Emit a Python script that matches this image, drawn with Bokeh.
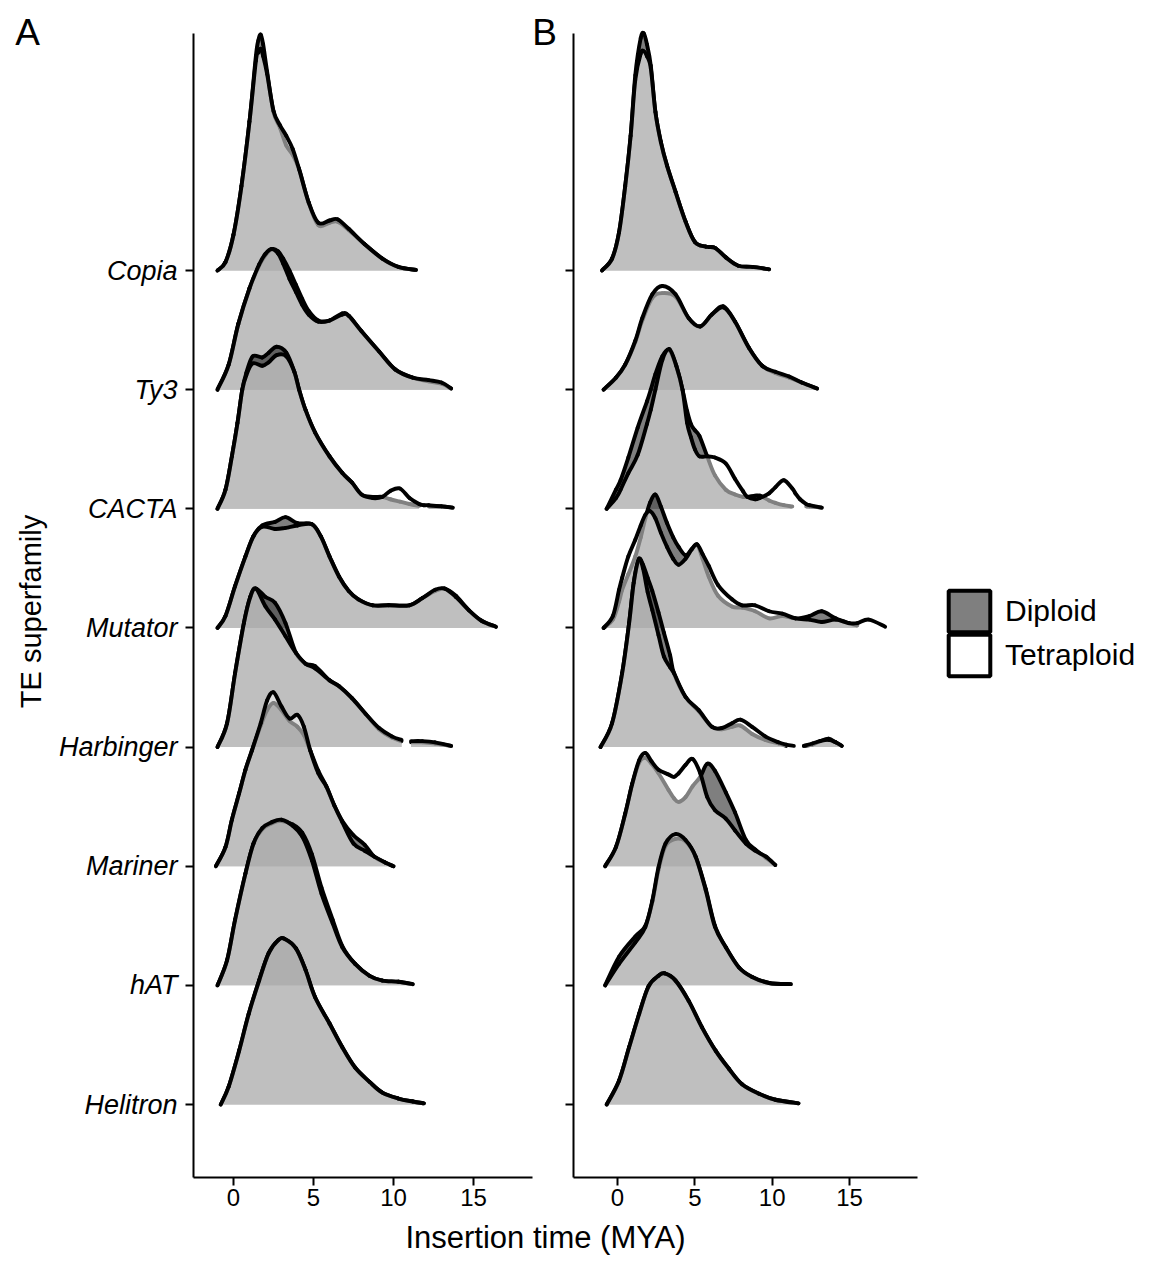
import math
from bokeh.plotting import figure
from bokeh.models import (Range1d, FixedTicker, Label, Legend, LegendItem, ColumnDataSource,
                          LinearAxis)
from bokeh.embed import file_html
from bokeh.resources import INLINE

FONT = "Liberation Sans"

SUPERFAMILIES = ["Copia", "Ty3", "CACTA", "Mutator", "Harbinger", "Mariner", "hAT", "Helitron"]
PLOIDY = ["Diploid", "Tetraploid"]
PANEL_TAGS = ["A", "B"]
X_TICKS = [0, 5, 10, 15]
X_TITLE = "Insertion time (MYA)"
Y_TITLE = "TE superfamily"

# ---------------- Panel A (scaled density heights, 1 = one row) ----------------
A_COPIA_X = [-1.0, -0.5, 0.0, 0.5, 1.0, 1.4, 1.55, 1.7, 1.85, 2.1, 2.5, 2.9, 3.3, 3.7, 4.1, 4.7, 5.3, 6.0, 6.5, 7.2, 8.2, 9.3, 10.3, 11.4]
A_COPIA_DIP = [0.0, 0.07, 0.30, 0.71, 1.25, 1.80, 1.93, 1.98, 1.90, 1.67, 1.33, 1.20, 1.05, 0.97, 0.85, 0.57, 0.38, 0.40, 0.41, 0.34, 0.22, 0.10, 0.03, 0.005]
A_COPIA_TET = [0.0, 0.07, 0.30, 0.71, 1.25, 1.76, 1.83, 1.86, 1.80, 1.65, 1.34, 1.22, 1.13, 1.02, 0.85, 0.57, 0.40, 0.42, 0.43, 0.35, 0.22, 0.10, 0.03, 0.005]

A_TY3_X = [-1.0, -0.3, 0.3, 1.0, 1.6, 2.0, 2.4, 2.8, 3.1, 3.5, 3.9, 4.3, 4.7, 5.3, 6.0, 6.8, 7.2, 8.0, 9.1, 10.1, 11.2, 12.2, 13.0, 13.6]
A_TY3_DIP = [0.0, 0.21, 0.55, 0.85, 1.04, 1.13, 1.18, 1.16, 1.10, 1.00, 0.88, 0.76, 0.66, 0.58, 0.58, 0.64, 0.62, 0.49, 0.32, 0.17, 0.10, 0.07, 0.05, 0.01]
A_TY3_TET = [0.0, 0.21, 0.55, 0.85, 1.05, 1.14, 1.18, 1.14, 1.06, 0.93, 0.82, 0.71, 0.63, 0.57, 0.58, 0.63, 0.62, 0.49, 0.32, 0.17, 0.10, 0.08, 0.06, 0.01]

A_CACTA_X = [-1.0, -0.5, -0.1, 0.25, 0.55, 0.8, 1.2, 1.8, 2.2, 2.7, 3.3, 3.8, 4.1, 4.5, 5.1, 6.0, 6.8, 7.4, 8.0, 8.7, 9.3, 9.8, 10.4, 11.0, 11.6, 11.9, 12.2, 13.0, 13.7]
A_CACTA_DIP = [0.0, 0.16, 0.44, 0.72, 1.00, 1.14, 1.28, 1.27, 1.31, 1.36, 1.31, 1.15, 1.00, 0.83, 0.64, 0.44, 0.30, 0.22, 0.12, 0.10, 0.10, 0.08, 0.06, 0.04, 0.025, None, 0.02, 0.02, 0.01]
A_CACTA_TET = [0.0, 0.16, 0.44, 0.72, 1.00, 1.12, 1.22, 1.20, 1.23, 1.29, 1.28, 1.15, 1.00, 0.83, 0.64, 0.44, 0.30, 0.22, 0.12, 0.09, 0.10, 0.15, 0.17, 0.09, 0.04, 0.03, 0.03, 0.02, 0.01]

A_MUTATOR_X = [-1.0, -0.5, 0.1, 0.75, 1.25, 1.8, 2.6, 3.25, 4.0, 4.9, 5.45, 6.0, 6.6, 7.2, 7.8, 8.7, 9.7, 11.0, 11.8, 12.6, 13.2, 13.9, 14.7, 15.5, 16.4]
A_MUTATOR_DIP = [0.0, 0.10, 0.35, 0.60, 0.77, 0.86, 0.89, 0.93, 0.88, 0.87, 0.77, 0.60, 0.43, 0.31, 0.24, 0.19, 0.19, 0.19, 0.25, 0.31, 0.33, 0.27, 0.15, 0.06, 0.01]
A_MUTATOR_TET = [0.0, 0.10, 0.35, 0.60, 0.77, 0.85, 0.83, 0.84, 0.86, 0.87, 0.77, 0.60, 0.43, 0.31, 0.24, 0.19, 0.19, 0.19, 0.25, 0.32, 0.33, 0.26, 0.15, 0.06, 0.01]

A_HARBINGER_X = [-1.0, -0.4, 0.1, 0.65, 1.05, 1.4, 2.0, 2.6, 3.25, 3.9, 4.5, 5.1, 6.0, 6.6, 7.4, 8.25, 9.1, 9.9, 10.5, 10.8, 11.1, 11.8, 12.6, 13.6]
A_HARBINGER_DIP = [0.0, 0.20, 0.62, 1.04, 1.26, 1.33, 1.26, 1.21, 1.04, 0.79, 0.70, 0.68, 0.56, 0.51, 0.41, 0.28, 0.15, 0.08, 0.05, None, 0.04, 0.04, 0.03, 0.01]
A_HARBINGER_TET = [0.0, 0.20, 0.62, 1.04, 1.26, 1.33, 1.18, 1.07, 0.93, 0.79, 0.70, 0.66, 0.56, 0.51, 0.41, 0.28, 0.16, 0.09, 0.06, None, 0.05, 0.05, 0.04, 0.01]

A_MARINER_X = [-1.1, -0.5, -0.1, 0.35, 0.75, 1.15, 1.7, 2.1, 2.5, 3.0, 3.5, 4.0, 4.4, 4.8, 5.3, 5.8, 6.3, 6.8, 7.5, 8.2, 8.8, 9.5, 10.0]
A_MARINER_DIP = [0.0, 0.16, 0.39, 0.61, 0.81, 0.97, 1.18, 1.31, 1.37, 1.31, 1.22, 1.17, 1.10, 0.97, 0.80, 0.67, 0.51, 0.38, 0.26, 0.18, 0.08, 0.03, 0.0]
A_MARINER_TET = [0.0, 0.16, 0.39, 0.61, 0.81, 0.97, 1.20, 1.39, 1.46, 1.34, 1.24, 1.27, 1.17, 0.97, 0.78, 0.67, 0.51, 0.37, 0.19, 0.13, 0.08, 0.03, 0.0]

A_HAT_X = [-1.0, -0.4, 0.1, 0.75, 1.25, 1.8, 2.4, 3.0, 3.7, 4.3, 4.9, 5.5, 6.2, 6.8, 7.6, 8.5, 9.3, 10.3, 11.2]
A_HAT_DIP = [0.0, 0.21, 0.55, 0.94, 1.19, 1.31, 1.36, 1.38, 1.35, 1.28, 1.10, 0.82, 0.55, 0.33, 0.18, 0.08, 0.04, 0.03, 0.01]
A_HAT_TET = [0.0, 0.21, 0.55, 0.94, 1.19, 1.32, 1.37, 1.39, 1.34, 1.25, 1.05, 0.77, 0.52, 0.32, 0.18, 0.08, 0.04, 0.03, 0.01]

A_HELITRON_X = [-0.8, -0.3, 0.35, 0.95, 1.6, 2.2, 2.8, 3.2, 3.9, 4.5, 5.1, 6.0, 6.8, 7.6, 8.5, 9.3, 10.3, 11.2, 11.9]
A_HELITRON_DIP = [0.0, 0.15, 0.45, 0.76, 1.04, 1.27, 1.38, 1.39, 1.31, 1.13, 0.90, 0.68, 0.48, 0.31, 0.19, 0.10, 0.05, 0.025, 0.01]
A_HELITRON_TET = [0.0, 0.15, 0.45, 0.76, 1.04, 1.27, 1.38, 1.39, 1.31, 1.13, 0.90, 0.68, 0.48, 0.31, 0.19, 0.10, 0.05, 0.025, 0.01]

# ---------------- Panel B ----------------
B_COPIA_X = [-1.0, -0.35, 0.1, 0.5, 0.85, 1.15, 1.5, 1.7, 1.9, 2.15, 2.45, 2.8, 3.2, 3.75, 4.4, 5.0, 5.7, 6.3, 7.0, 7.8, 8.7, 9.8]
B_COPIA_DIP = [0.0, 0.10, 0.32, 0.71, 1.13, 1.64, 1.95, 1.99, 1.90, 1.72, 1.33, 1.08, 0.88, 0.66, 0.41, 0.24, 0.20, 0.19, 0.11, 0.04, 0.03, 0.01]
B_COPIA_TET = [0.0, 0.10, 0.32, 0.71, 1.13, 1.60, 1.82, 1.84, 1.80, 1.70, 1.33, 1.08, 0.88, 0.66, 0.41, 0.24, 0.20, 0.19, 0.11, 0.04, 0.03, 0.01]

B_TY3_X = [-0.9, -0.1, 0.5, 1.15, 1.6, 2.25, 2.9, 3.75, 4.6, 5.35, 6.1, 6.85, 7.6, 8.5, 9.35, 10.2, 11.1, 11.9, 12.9]
B_TY3_DIP = [0.0, 0.10, 0.21, 0.40, 0.58, 0.77, 0.81, 0.78, 0.60, 0.53, 0.63, 0.70, 0.57, 0.35, 0.20, 0.14, 0.10, 0.06, 0.01]
B_TY3_TET = [0.0, 0.10, 0.21, 0.41, 0.60, 0.80, 0.87, 0.80, 0.60, 0.53, 0.63, 0.69, 0.57, 0.35, 0.20, 0.15, 0.11, 0.06, 0.01]

B_CACTA_X = [-0.7, -0.1, 0.2, 0.7, 1.3, 1.9, 2.15, 2.45, 2.9, 3.35, 3.8, 4.2, 4.5, 4.75, 5.0, 5.3, 5.8, 6.3, 7.0, 7.6, 8.1, 8.4, 8.9, 9.2, 9.8, 10.2, 10.75, 11.3, 11.5, 11.8, 12.2, 12.4, 13.2]
B_CACTA_DIP = [0.0, 0.16, 0.24, 0.43, 0.68, 0.90, 1.00, 1.13, 1.28, 1.33, 1.20, 1.00, 0.82, 0.71, 0.66, 0.61, 0.44, 0.28, 0.16, 0.12, 0.10, 0.10, 0.11, 0.11, 0.07, 0.05, 0.03, 0.02, None, None, 0.02, 0.02, 0.01]
B_CACTA_TET = [0.0, 0.09, 0.16, 0.30, 0.45, 0.71, 0.83, 1.00, 1.25, 1.34, 1.20, 1.00, 0.72, 0.60, 0.50, 0.44, 0.44, 0.43, 0.38, 0.25, 0.15, 0.10, 0.08, 0.09, 0.13, 0.18, 0.24, 0.17, 0.13, 0.08, 0.04, 0.03, 0.01]

B_MUTATOR_X = [-0.9, -0.3, 0.1, 0.3, 0.7, 1.15, 1.5, 1.8, 2.1, 2.45, 2.8, 3.2, 3.6, 3.95, 4.4, 4.8, 5.15, 5.5, 5.9, 6.5, 7.4, 8.05, 8.9, 9.8, 10.65, 11.5, 12.4, 13.2, 14.1, 14.95, 15.5, 16.25, 17.3]
B_MUTATOR_DIP = [0.0, 0.07, 0.22, 0.32, 0.45, 0.60, 0.76, 0.92, 1.05, 1.12, 1.02, 0.88, 0.76, 0.68, 0.61, 0.66, 0.70, 0.58, 0.43, 0.27, 0.18, 0.17, 0.14, 0.08, 0.10, 0.08, 0.10, 0.14, 0.08, 0.04, 0.02, None, None]
B_MUTATOR_TET = [0.0, 0.10, 0.32, 0.42, 0.60, 0.74, 0.86, 0.95, 0.98, 0.92, 0.80, 0.68, 0.58, 0.53, 0.58, 0.66, 0.70, 0.62, 0.52, 0.36, 0.24, 0.19, 0.19, 0.14, 0.12, 0.08, 0.07, 0.05, 0.07, 0.04, 0.04, 0.07, 0.01]

B_HARBINGER_X = [-1.1, -0.35, 0.3, 0.75, 1.05, 1.38, 1.65, 1.95, 2.25, 2.65, 3.0, 3.4, 3.65, 4.4, 5.25, 6.1, 6.75, 7.4, 7.95, 8.7, 9.55, 10.4, 10.9, 11.4, 11.7, 12.05, 12.6, 13.1, 13.65, 14.1, 14.5]
B_HARBINGER_DIP = [0.0, 0.20, 0.62, 1.04, 1.38, 1.57, 1.53, 1.42, 1.31, 1.13, 0.96, 0.77, 0.62, 0.42, 0.30, 0.17, 0.15, 0.17, 0.18, 0.11, 0.06, 0.03, 0.01, None, None, 0.01, 0.02, 0.05, 0.07, 0.04, 0.01]
B_HARBINGER_TET = [0.0, 0.20, 0.62, 1.04, 1.38, 1.58, 1.50, 1.30, 1.15, 0.94, 0.76, 0.67, 0.62, 0.42, 0.31, 0.17, 0.16, 0.20, 0.23, 0.17, 0.09, 0.04, 0.02, 0.01, None, 0.01, 0.03, 0.05, 0.06, 0.04, 0.01]

B_MARINER_X = [-0.8, -0.1, 0.5, 0.95, 1.4, 1.8, 2.2, 2.65, 3.3, 3.65, 3.95, 4.4, 4.85, 5.35, 5.8, 6.3, 7.0, 7.6, 8.3, 8.9, 9.6, 10.2]
B_MARINER_DIP = [0.0, 0.16, 0.44, 0.69, 0.87, 0.91, 0.86, 0.78, 0.64, 0.57, 0.54, 0.58, 0.67, 0.75, 0.86, 0.80, 0.62, 0.45, 0.22, 0.14, 0.07, 0.01]
B_MARINER_TET = [0.0, 0.16, 0.44, 0.69, 0.89, 0.95, 0.88, 0.81, 0.77, 0.75, 0.78, 0.85, 0.90, 0.78, 0.58, 0.47, 0.40, 0.30, 0.19, 0.13, 0.08, 0.01]

B_HAT_X = [-0.8, 0.1, 1.15, 1.8, 2.25, 2.65, 3.1, 3.75, 4.4, 5.05, 5.7, 6.3, 7.0, 7.85, 8.7, 9.8, 11.2]
B_HAT_DIP = [0.0, 0.24, 0.41, 0.50, 0.70, 0.97, 1.17, 1.23, 1.21, 1.08, 0.81, 0.50, 0.32, 0.15, 0.07, 0.02, 0.01]
B_HAT_TET = [0.0, 0.18, 0.36, 0.49, 0.71, 0.99, 1.19, 1.27, 1.22, 1.08, 0.80, 0.49, 0.32, 0.15, 0.07, 0.02, 0.01]

B_HELITRON_X = [-0.7, 0.1, 0.75, 1.4, 2.0, 2.65, 3.05, 3.75, 4.6, 5.45, 6.35, 7.2, 8.05, 9.15, 10.2, 11.7]
B_HELITRON_DIP = [0.0, 0.20, 0.48, 0.76, 0.99, 1.08, 1.10, 1.04, 0.87, 0.65, 0.45, 0.30, 0.17, 0.09, 0.04, 0.01]
B_HELITRON_TET = [0.0, 0.20, 0.48, 0.76, 0.99, 1.08, 1.10, 1.04, 0.87, 0.65, 0.45, 0.30, 0.17, 0.09, 0.04, 0.01]

PANEL_A = [
    (A_COPIA_X, A_COPIA_DIP, A_COPIA_TET),
    (A_TY3_X, A_TY3_DIP, A_TY3_TET),
    (A_CACTA_X, A_CACTA_DIP, A_CACTA_TET),
    (A_MUTATOR_X, A_MUTATOR_DIP, A_MUTATOR_TET),
    (A_HARBINGER_X, A_HARBINGER_DIP, A_HARBINGER_TET),
    (A_MARINER_X, A_MARINER_DIP, A_MARINER_TET),
    (A_HAT_X, A_HAT_DIP, A_HAT_TET),
    (A_HELITRON_X, A_HELITRON_DIP, A_HELITRON_TET),
]
PANEL_B = [
    (B_COPIA_X, B_COPIA_DIP, B_COPIA_TET),
    (B_TY3_X, B_TY3_DIP, B_TY3_TET),
    (B_CACTA_X, B_CACTA_DIP, B_CACTA_TET),
    (B_MUTATOR_X, B_MUTATOR_DIP, B_MUTATOR_TET),
    (B_HARBINGER_X, B_HARBINGER_DIP, B_HARBINGER_TET),
    (B_MARINER_X, B_MARINER_DIP, B_MARINER_TET),
    (B_HAT_X, B_HAT_DIP, B_HAT_TET),
    (B_HELITRON_X, B_HELITRON_DIP, B_HELITRON_TET),
]

# ---------------- layout constants (pixels) ----------------
W, H = 1152, 1263
A_ZERO_PX, A_UNIT_PX = 233.0, 16.0
B_ZERO_PX, B_UNIT_PX = 617.0, 15.47
TOP_BASE_PX = 270.0
ROW_PX = (1104.0 - 270.0) / 7.0
N = len(SUPERFAMILIES)

DIP_FILL = ("black", 0.5)
TET_FILL = ("white", 0.5)
LINE_W = 3.9


def xa(px):
    return (px - A_ZERO_PX) / A_UNIT_PX


def xb(px):
    return (px - B_ZERO_PX) / B_UNIT_PX


def yd(py):
    return N - (py - TOP_BASE_PX) / ROW_PX


p = figure(width=W, height=H, x_range=Range1d(xa(0), xa(W)), y_range=Range1d(yd(H), yd(0)),
           output_backend="svg", toolbar_location=None, x_axis_location=None, y_axis_location=None,
           min_border=0)
p.extra_x_ranges = {"b": Range1d(xb(0), xb(W))}
p.outline_line_color = None
p.background_fill_color = "white"
p.border_fill_color = "white"
p.grid.visible = False

Y_BOT, Y_TOP = yd(1177), yd(33)
A_LEFT, A_RIGHT = xa(193), xa(532)
B_LEFT, B_RIGHT = xb(573), xb(917)


def split_runs(xs, hs):
    runs, cx, ch = [], [], []
    for x, h in zip(xs, hs):
        if h is None:
            if cx:
                runs.append((cx, ch))
            cx, ch = [], []
        else:
            cx.append(x)
            ch.append(h)
    if cx:
        runs.append((cx, ch))
    return runs


def catmull_rom(xs, ys):
    """Cubic Bezier pieces passing through every read point (rendering only)."""
    n = len(xs)
    cols = dict(x0=[], y0=[], x1=[], y1=[], cx0=[], cy0=[], cx1=[], cy1=[])
    for i in range(n - 1):
        xp, yp = (xs[i - 1], ys[i - 1]) if i > 0 else (xs[i], ys[i])
        xn, yn = (xs[i + 2], ys[i + 2]) if i + 2 < n else (xs[i + 1], ys[i + 1])
        cols["x0"].append(xs[i]); cols["y0"].append(ys[i])
        cols["x1"].append(xs[i + 1]); cols["y1"].append(ys[i + 1])
        cols["cx0"].append(xs[i] + (xs[i + 1] - xp) / 6.0)
        cols["cy0"].append(ys[i] + (ys[i + 1] - yp) / 6.0)
        cols["cx1"].append(xs[i + 1] - (xn - xs[i]) / 6.0)
        cols["cy1"].append(ys[i + 1] - (yn - ys[i]) / 6.0)
    return cols


def add_ridges(ridges, range_name):
    for i, (xs, dip, tet) in enumerate(ridges):
        base = N - i
        for hs, (fc, fa) in ((dip, DIP_FILL), (tet, TET_FILL)):
            for sx, sh in split_runs(xs, hs):
                top = [base + h for h in sh]
                src = ColumnDataSource(data=dict(x=sx, lo=[base] * len(sx), hi=top))
                p.varea(x="x", y1="lo", y2="hi", source=src, fill_color=fc, fill_alpha=fa,
                        x_range_name=range_name)
                csrc = ColumnDataSource(data=catmull_rom(sx, top))
                p.bezier(x0="x0", y0="y0", x1="x1", y1="y1", cx0="cx0", cy0="cy0", cx1="cx1",
                         cy1="cy1", source=csrc, line_color="black", line_width=LINE_W,
                         line_cap="round", x_range_name=range_name)


def style_axis(ax):
    ax.axis_line_width = 2
    ax.axis_line_color = "black"
    ax.major_tick_line_width = 2
    ax.major_tick_line_color = "black"
    ax.major_tick_out = 8
    ax.major_tick_in = 0
    ax.minor_tick_line_color = None
    ax.major_label_text_font = FONT
    ax.major_label_text_color = "black"


yt = [N - i for i in range(N)]


def add_axes(range_name, x_lo, x_hi, show_names):
    xaxis = LinearAxis(ticker=FixedTicker(ticks=X_TICKS), fixed_location=Y_BOT, bounds=(x_lo, x_hi),
                       x_range_name=range_name)
    style_axis(xaxis)
    xaxis.major_label_text_font_size = "24px"
    xaxis.major_label_standoff = 3
    p.add_layout(xaxis, "below")
    yaxis = LinearAxis(ticker=FixedTicker(ticks=yt), fixed_location=x_lo, bounds=(Y_BOT, Y_TOP),
                       x_range_name=range_name)
    style_axis(yaxis)
    yaxis.major_label_overrides = {t: (name if show_names else "") for t, name in zip(yt, SUPERFAMILIES)}
    yaxis.major_label_text_font_size = "27px"
    yaxis.major_label_text_font_style = "italic"
    yaxis.major_label_standoff = 8
    p.add_layout(yaxis, "left")


add_ridges(PANEL_A, "default")
add_ridges(PANEL_B, "b")
add_axes("default", A_LEFT, A_RIGHT, True)
add_axes("b", B_LEFT, B_RIGHT, False)

# titles and panel tags
p.add_layout(Label(x=xa(27), y=yd(31.5), text=PANEL_TAGS[0], text_font=FONT, text_font_size="37px",
                   text_align="center", text_baseline="middle", text_color="black"))
p.add_layout(Label(x=xa(544), y=yd(31.5), text=PANEL_TAGS[1], text_font=FONT, text_font_size="37px",
                   text_align="center", text_baseline="middle", text_color="black"))
p.add_layout(Label(x=xa(545), y=yd(1237), text=X_TITLE, text_font=FONT, text_font_size="31px",
                   text_align="center", text_baseline="middle", text_color="black"))
p.add_layout(Label(x=xa(30), y=yd(611), text=Y_TITLE, text_font=FONT, text_font_size="29px",
                   text_align="center", text_baseline="middle", text_color="black", angle=math.pi / 2))

# legend (proxy renderers lie outside the visible ranges); one legend per key so boxes abut
r_dip = p.quad(left=[-500], right=[-499], bottom=[-500], top=[-499], fill_color=DIP_FILL[0],
               fill_alpha=DIP_FILL[1], line_color="black", line_width=4)
r_tet = p.quad(left=[-500], right=[-499], bottom=[-500], top=[-499], fill_color=TET_FILL[0],
               fill_alpha=TET_FILL[1], line_color="black", line_width=4)
for item_label, rend, loc in ((PLOIDY[0], r_dip, (943, 626)), (PLOIDY[1], r_tet, (943, 582))):
    lg = Legend(items=[LegendItem(label=item_label, renderers=[rend])],
                location=loc, glyph_width=52, glyph_height=52, label_height=52,
                padding=0, margin=0, label_standoff=10,
                label_text_font=FONT, label_text_font_size="30px", label_text_color="black",
                border_line_alpha=0, background_fill_alpha=0)
    p.add_layout(lg)

open("out.html", "w").write(file_html(p, INLINE))
